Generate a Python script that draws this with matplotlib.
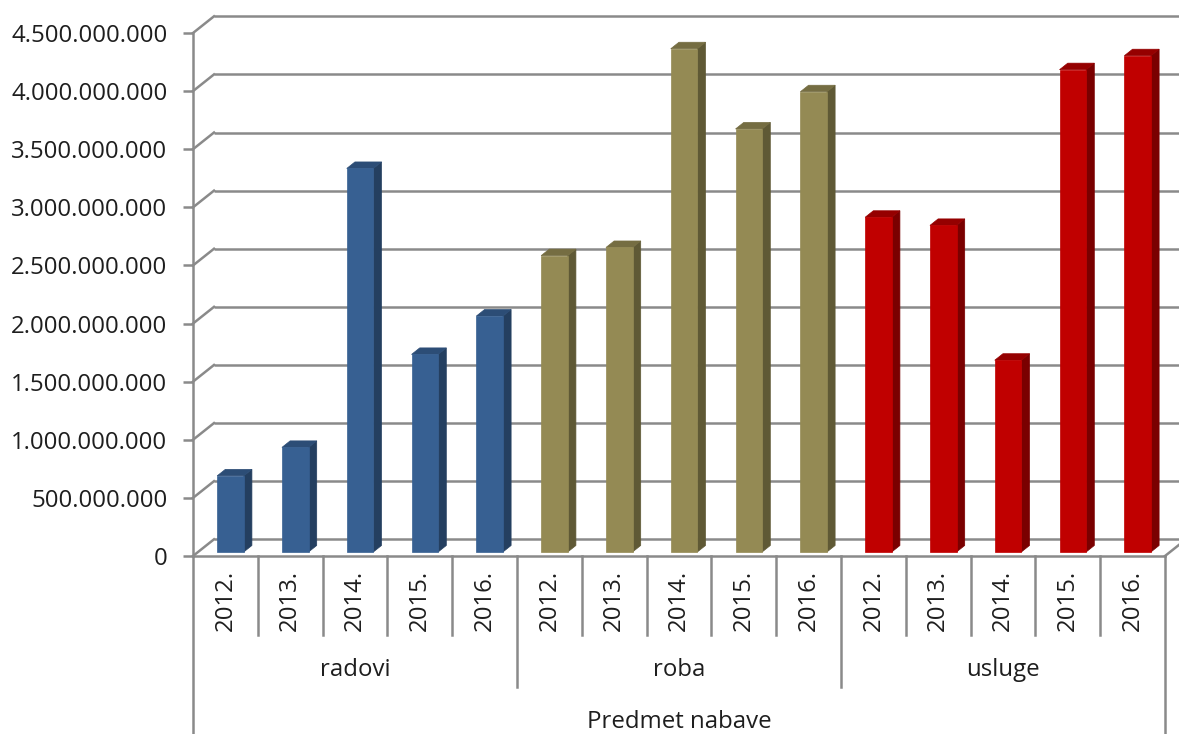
import matplotlib
matplotlib.use("Agg")
import matplotlib.pyplot as plt
from matplotlib.patches import Polygon

plt.rcParams['font.family'] = ['Open Sans', 'DejaVu Sans']

# data
groups = ['radovi', 'roba', 'usluge']
years = ['2012.', '2013.', '2014.', '2015.', '2016.']
radovi = [0.655e9, 0.90e9, 3.30e9, 1.70e9, 2.03e9]
roba = [2.55e9, 2.62e9, 4.33e9, 3.64e9, 3.96e9]
usluge = [2.88e9, 2.81e9, 1.65e9, 4.15e9, 4.27e9]
axis_title = 'Predmet nabave'

# front / side / top face colours per group
colors = {
    'radovi': ('#376092', '#243f60', '#2c4d76'),
    'roba': ('#948a54', '#5f5935', '#756d42'),
    'usluge': ('#c00000', '#7a0000', '#950000'),
}

ymax = 4.5e9
step = 0.5e9
n = len(groups) * len(years)

# 3d depth offset in data units
DX = 0.324
DY = 0.1437e9
d0, d1 = 0.24, 0.63
bar_w = 0.41

grid_c = '#8a8a8a'
txt_c = '#1e1e1e'
fs = 17.3

fig = plt.figure(figsize=(11.79, 7.34), dpi=100)
ax = fig.add_axes([193 / 1179, 1 - 556 / 734, 972 / 1179, 523 / 734])
ax.set_xlim(0, n)
ax.set_ylim(0, ymax)
for s in ax.spines.values():
    s.set_visible(False)

# walls: back gridlines, left diagonals
ticks = [i * step for i in range(int(ymax / step) + 1)]
for v in ticks:
    ax.plot([DX, n + DX + 1], [v + DY, v + DY], color=grid_c, lw=1.8,
            clip_on=False, zorder=1, solid_capstyle='butt')
    ax.plot([0, DX], [v, v + DY], color=grid_c, lw=1.8, clip_on=False, zorder=1)
# floor front edge and right side
ax.plot([0, n], [0, 0], color=grid_c, lw=1.8, clip_on=False, zorder=1)
ax.plot([n, n + DX], [0, DY], color=grid_c, lw=1.8, clip_on=False, zorder=1)
# value axis
ax.plot([0, 0], [0, ymax], color=grid_c, lw=1.8, clip_on=False, zorder=2)

ax.set_yticks(ticks)
ax.set_yticklabels([f"{int(v):,}".replace(",", ".") for v in ticks])
ax.tick_params(axis='y', length=7.5, width=1.8, color=grid_c, pad=11,
               labelsize=fs, labelcolor=txt_c)
ax.set_xticks([])

# bars
k = 0
for g, vals in zip(groups, [radovi, roba, usluge]):
    fc, sc, tc = colors[g]
    for v in vals:
        x0 = k + 0.5 - bar_w / 2
        x1 = k + 0.5 + bar_w / 2
        front = [(x0 + d0 * DX, d0 * DY), (x1 + d0 * DX, d0 * DY),
                 (x1 + d0 * DX, v + d0 * DY), (x0 + d0 * DX, v + d0 * DY)]
        side = [(x1 + d0 * DX, d0 * DY), (x1 + d1 * DX, d1 * DY),
                (x1 + d1 * DX, v + d1 * DY), (x1 + d0 * DX, v + d0 * DY)]
        top = [(x0 + d0 * DX, v + d0 * DY), (x1 + d0 * DX, v + d0 * DY),
               (x1 + d1 * DX, v + d1 * DY), (x0 + d1 * DX, v + d1 * DY)]
        for pts, c in [(side, sc), (top, tc), (front, fc)]:
            ax.add_patch(Polygon(pts, closed=True, facecolor=c, edgecolor=c,
                                 lw=0.5, zorder=3, clip_on=False))
        k += 1

# category axis (multi level)
tr = ax.get_xaxis_transform()
y_year, y_lvl1 = -0.085, -0.151
y_grp, y_lvl2 = -0.218, -0.250
y_title, y_bottom = -0.317, -0.345
for i in range(n + 1):
    if i == 0 or i == n:
        y_end = y_bottom
    elif i % len(years) == 0:
        y_end = y_lvl2
    else:
        y_end = y_lvl1
    ax.plot([i, i], [0, y_end], color=grid_c, lw=1.8, transform=tr,
            clip_on=False, zorder=1)

k = 0
for gi, g in enumerate(groups):
    for yr in years:
        ax.text(k + 0.5, y_year, yr, rotation=90, ha='center', va='center',
                fontsize=fs, color=txt_c, transform=tr)
        k += 1
    ax.text(gi * len(years) + len(years) / 2, y_grp, g, ha='center',
            va='center', fontsize=fs, color=txt_c, transform=tr)
ax.text(n / 2, y_title, axis_title, ha='center', va='center',
        fontsize=fs, color=txt_c, transform=tr)

plt.savefig('out.png', dpi=100)
